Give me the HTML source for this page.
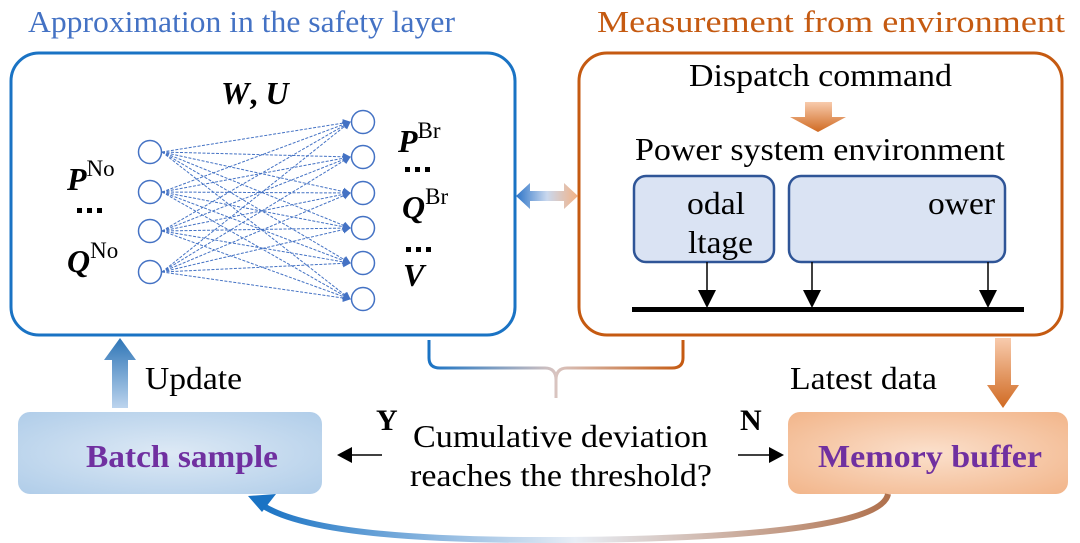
<!DOCTYPE html>
<html><head><meta charset="utf-8"><style>
html,body{margin:0;padding:0;background:#fff;}
svg{display:block;font-family:"Liberation Serif",serif;}
</style></head><body>
<svg width="1080" height="543" viewBox="0 0 1080 543" xmlns="http://www.w3.org/2000/svg">
<defs>
<marker id="nm" markerWidth="8" markerHeight="8" refX="7" refY="4" orient="auto" markerUnits="userSpaceOnUse"><path d="M0,0 L8,4 L0,8 z" fill="#4472c4"/></marker>
<linearGradient id="dbl" x1="0" x2="1"><stop offset="0" stop-color="#2e75c8"/><stop offset="0.5" stop-color="#c9d8ee"/><stop offset="1" stop-color="#f4b183"/></linearGradient>
<linearGradient id="brace" x1="0" x2="1"><stop offset="0" stop-color="#1a73c4"/><stop offset="0.5" stop-color="#d9c4c0"/><stop offset="1" stop-color="#c55a11"/></linearGradient>
<linearGradient id="bot" x1="1" x2="0"><stop offset="0" stop-color="#b0714d"/><stop offset="0.5" stop-color="#e8eef6"/><stop offset="1" stop-color="#1a73c4"/></linearGradient>
<linearGradient id="upA" x1="0" y1="1" x2="0" y2="0"><stop offset="0" stop-color="#bcd4ee"/><stop offset="1" stop-color="#2e75b6"/></linearGradient>
<linearGradient id="dnA" x1="0" y1="0" x2="0" y2="1"><stop offset="0" stop-color="#f8cbad"/><stop offset="1" stop-color="#d06a22"/></linearGradient>
<radialGradient id="bs" cx="0.5" cy="0.5" r="0.7"><stop offset="0" stop-color="#dde9f5"/><stop offset="1" stop-color="#b0cde9"/></radialGradient>
<radialGradient id="mb" cx="0.5" cy="0.5" r="0.7"><stop offset="0" stop-color="#fbe0cc"/><stop offset="1" stop-color="#f2b58a"/></radialGradient>
</defs>

<text x="28" y="32" font-size="31" fill="#4472c4" textLength="427" lengthAdjust="spacingAndGlyphs">Approximation in the safety layer</text>
<text x="597" y="32" font-size="31" fill="#c55a11" textLength="468" lengthAdjust="spacingAndGlyphs">Measurement from environment</text>

<rect x="11" y="53" width="504" height="282" rx="28" fill="#fff" stroke="#1a73c4" stroke-width="3"/>
<rect x="579" y="53" width="483" height="282" rx="28" fill="#fff" stroke="#c55a11" stroke-width="3"/>

<!-- NN -->
<g stroke="#4472c4" stroke-width="1" stroke-dasharray="3,1.5" fill="none" marker-end="url(#nm)">
<line x1="162" y1="152" x2="350" y2="122"/><line x1="162" y1="152" x2="350" y2="157"/><line x1="162" y1="152" x2="350" y2="193"/><line x1="162" y1="152" x2="350" y2="228"/><line x1="162" y1="152" x2="350" y2="263"/><line x1="162" y1="152" x2="350" y2="299"/>
<line x1="162" y1="192" x2="350" y2="122"/><line x1="162" y1="192" x2="350" y2="157"/><line x1="162" y1="192" x2="350" y2="193"/><line x1="162" y1="192" x2="350" y2="228"/><line x1="162" y1="192" x2="350" y2="263"/><line x1="162" y1="192" x2="350" y2="299"/>
<line x1="162" y1="231" x2="350" y2="122"/><line x1="162" y1="231" x2="350" y2="157"/><line x1="162" y1="231" x2="350" y2="193"/><line x1="162" y1="231" x2="350" y2="228"/><line x1="162" y1="231" x2="350" y2="263"/><line x1="162" y1="231" x2="350" y2="299"/>
<line x1="162" y1="272" x2="350" y2="122"/><line x1="162" y1="272" x2="350" y2="157"/><line x1="162" y1="272" x2="350" y2="193"/><line x1="162" y1="272" x2="350" y2="228"/><line x1="162" y1="272" x2="350" y2="263"/><line x1="162" y1="272" x2="350" y2="299"/>
</g>
<g fill="#fff" stroke="#4472c4" stroke-width="1.5">
<circle cx="150" cy="152" r="11.5"/><circle cx="150" cy="192" r="11.5"/><circle cx="150" cy="231" r="11.5"/><circle cx="150" cy="272" r="11.5"/>
<circle cx="363" cy="122" r="11.5"/><circle cx="363" cy="157" r="11.5"/><circle cx="363" cy="193" r="11.5"/><circle cx="363" cy="228" r="11.5"/><circle cx="363" cy="263" r="11.5"/><circle cx="363" cy="299" r="11.5"/>
</g>
<g font-weight="bold" font-style="italic" font-size="32" fill="#000">
<text x="221" y="104">W<tspan font-style="normal">,</tspan> U</text>
<text x="67" y="190">P<tspan font-style="normal" font-weight="normal" font-size="23" dy="-14">No</tspan></text>
<text x="67" y="272">Q<tspan font-style="normal" font-weight="normal" font-size="23" dy="-14">No</tspan></text>
<text x="398" y="152">P<tspan font-style="normal" font-weight="normal" font-size="23" dy="-14">Br</tspan></text>
<text x="402" y="218">Q<tspan font-style="normal" font-weight="normal" font-size="23" dy="-14">Br</tspan></text>
<text x="403" y="286">V</text>
</g>
<g fill="#000"><rect x="77" y="208" width="5" height="5"/><rect x="87" y="208" width="5" height="5"/><rect x="97" y="208" width="5" height="5"/>
<rect x="405" y="167" width="5" height="5"/><rect x="415" y="167" width="5" height="5"/><rect x="425" y="167" width="5" height="5"/>
<rect x="406" y="247" width="5" height="5"/><rect x="416" y="247" width="5" height="5"/><rect x="426" y="247" width="5" height="5"/></g>

<!-- double arrow -->
<path d="M516,196 L530,183 L530,191 L564,191 L564,183 L578,196 L564,209 L564,201 L530,201 L530,209 z" fill="url(#dbl)"/>

<!-- right box content -->
<text x="689" y="86" font-size="32" textLength="263" lengthAdjust="spacingAndGlyphs">Dispatch command</text>
<path d="M805,102 L832,102 L832,117 L846,117 L818,132 L790,117 L805,117 z" fill="url(#dnA)"/>
<text x="635" y="160" font-size="32" textLength="370" lengthAdjust="spacingAndGlyphs">Power system environment</text>
<rect x="634" y="176" width="140" height="86" rx="12" fill="#dae3f3" stroke="#2f5597" stroke-width="2.5"/>
<rect x="789" y="176" width="216" height="86" rx="12" fill="#dae3f3" stroke="#2f5597" stroke-width="2.5"/>
<text x="687" y="214" font-size="32" textLength="58" lengthAdjust="spacingAndGlyphs">odal</text>
<text x="688" y="253" font-size="32" textLength="65" lengthAdjust="spacingAndGlyphs">ltage</text>
<text x="928" y="214" font-size="32" textLength="67" lengthAdjust="spacingAndGlyphs">ower</text>
<rect x="632" y="307" width="392" height="5" fill="#000"/>
<g stroke="#000" stroke-width="1.5"><line x1="707" y1="262" x2="707" y2="292"/><line x1="812" y1="262" x2="812" y2="292"/><line x1="988" y1="262" x2="988" y2="292"/></g>
<g fill="#000"><path d="M698,290 L716,290 L707,308 z"/><path d="M803,290 L821,290 L812,308 z"/><path d="M979,290 L997,290 L988,308 z"/></g>

<!-- brace -->
<path d="M429,340 L429,358 Q429,368 440,368 L545,368 Q556,368 556,380 L556,398 M556,380 Q556,368 567,368 L672,368 Q683,368 683,358 L683,340" fill="none" stroke="url(#brace)" stroke-width="3"/>

<!-- update / latest -->
<path d="M112,408 L112,360 L104,360 L120,338 L136,360 L128,360 L128,408 z" fill="url(#upA)"/>
<text x="145" y="389" font-size="32" textLength="97" lengthAdjust="spacingAndGlyphs">Update</text>
<text x="790" y="389" font-size="32" textLength="147" lengthAdjust="spacingAndGlyphs">Latest data</text>
<path d="M995,338 L1011,338 L1011,385 L1019,385 L1003,408 L987,385 L995,385 z" fill="url(#dnA)"/>

<rect x="18" y="412" width="304" height="82" rx="12" fill="url(#bs)"/>
<text x="86" y="467" font-size="32" font-weight="bold" fill="#7030a0" textLength="192" lengthAdjust="spacingAndGlyphs">Batch sample</text>
<rect x="788" y="412" width="280" height="82" rx="12" fill="url(#mb)"/>
<text x="818" y="467" font-size="32" font-weight="bold" fill="#7030a0" textLength="224" lengthAdjust="spacingAndGlyphs">Memory buffer</text>

<text x="376" y="430" font-size="30" font-weight="bold">Y</text>
<text x="740" y="430" font-size="30" font-weight="bold">N</text>
<line x1="382" y1="455" x2="350" y2="455" stroke="#000" stroke-width="1.5"/><path d="M337,455 L352,447 L352,463 z"/>
<line x1="738" y1="455" x2="770" y2="455" stroke="#000" stroke-width="1.5"/><path d="M784,455 L769,447 L769,463 z"/>
<text x="413" y="447" font-size="32" textLength="295" lengthAdjust="spacingAndGlyphs">Cumulative deviation</text>
<text x="410" y="486" font-size="32" textLength="302" lengthAdjust="spacingAndGlyphs">reaches the threshold?</text>

<!-- bottom curve -->
<path d="M888,494 C880,540 600,540 540,540 C400,540 300,530 262,505" fill="none" stroke="url(#bot)" stroke-width="6"/>
<path d="M248,496 L276,494 L262,512 z" fill="#1a73c4"/>
</svg>
</body></html>
